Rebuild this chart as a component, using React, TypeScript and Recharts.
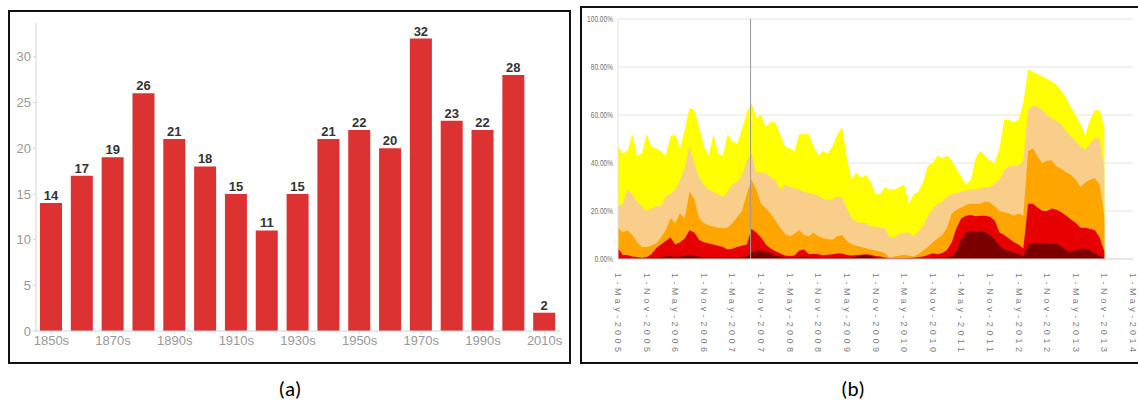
import React from 'react';
import {
  BarChart, Bar, XAxis, YAxis, LabelList,
  AreaChart, Area, CartesianGrid, ReferenceLine,
} from 'recharts';

// ---------- Panel (a) data ----------
const decades = ['1850s', '1860s', '1870s', '1880s', '1890s', '1900s', '1910s', '1920s', '1930s',
  '1940s', '1950s', '1960s', '1970s', '1980s', '1990s', '2000s', '2010s'];
const decadeCounts = [14, 17, 19, 26, 21, 18, 15, 11, 15, 21, 22, 20, 32, 23, 22, 28, 2];
const countTicks = [0, 5, 10, 15, 20, 25, 30];

// ---------- Panel (b) data (cumulative stack levels, % per month from May-2005) ----------
const yellowTop = [
  47, 44, 45, 52, 43, 44, 52, 47, 46, 45, 43, 51, 52, 46, 54, 63, 62, 55, 47, 43,
  52, 44, 43, 52, 49, 48, 54, 61, 65, 59, 60, 55, 57, 57, 52,
  47, 46, 45, 52, 52, 52, 47, 43, 45, 44, 47, 52, 55, 42, 33, 36, 34, 35, 32, 27,
  27, 30, 29, 29, 30, 31, 23, 27, 28, 32, 39, 40, 43,
  42, 43, 41, 37.5, 34, 31, 33, 42, 45, 43, 41, 40, 46, 58, 58, 57, 58, 65, 79, 78,
  77, 76, 75, 74, 72.6, 70, 67, 63, 60, 56, 51.5, 58, 62, 62, 55,
];
const lightOrangeTop = [
  22, 23, 29, 27, 24, 22, 20, 21, 22, 22, 26, 27, 29, 33, 38, 47, 40, 34, 31, 29,
  28, 27, 26, 28, 31, 32, 35, 41, 44, 36, 36, 36, 34, 33, 29,
  31, 30, 29.5, 29, 28, 27.5, 27, 26.5, 25, 24.6, 25, 26, 25.5, 21, 17, 15.5, 15, 15, 13.5, 13.5,
  13, 12.8, 9, 9, 10.5, 11, 11, 9.5, 11.5, 14, 18, 21, 23,
  24, 26, 27, 27.5, 28, 28.5, 29, 29, 29.5, 30, 30, 31.5, 33, 37, 38.5, 39, 39, 41, 62, 64,
  63.5, 62, 60, 58.5, 57.5, 56, 53, 51, 49, 47, 45.5, 48, 50.5, 50, 37,
];
const orangeTop = [
  13, 11, 12, 10, 7, 5, 5, 5.5, 6.5, 9, 12, 17, 15, 19, 17, 28, 25, 17, 15, 14,
  13.5, 13, 12.8, 13, 15, 17.5, 20, 27, 33, 29, 23, 21, 19, 16, 13,
  10.5, 9.5, 10.5, 12, 10, 9.5, 11, 9.5, 8.6, 8.3, 8, 9.5, 10, 7.5, 6, 5.5, 5, 4.5, 4, 3.5,
  3, 2.4, 0.5, 1, 1.5, 1.7, 1.5, 1, 2, 3.5, 5, 7, 8.5,
  10, 13, 19, 20.5, 21.5, 22.5, 23, 23, 23, 24, 23.5, 22, 20, 19.5, 19, 18, 19, 18, 45, 46,
  42.6, 40, 41, 41, 38.5, 37.5, 36, 35, 33, 30, 32, 33, 33.6, 31, 17.6,
];
const redTop = [
  4.5, 1.7, 1.7, 1, 0.8, 0.5, 0.8, 2, 4.5, 6, 7.5, 9, 6, 7, 8.5, 12, 11, 8, 7, 6.5,
  6, 5.5, 5, 4, 4.3, 5, 5.5, 6, 12.5, 11, 9, 6, 4.4, 3.2, 2.4,
  1.5, 1.2, 1.5, 3.5, 4, 2, 2.2, 2, 1.6, 1.8, 2, 2.3, 2.3, 1.7, 1.5, 1.7, 1.8, 2, 1.8, 1.2,
  1, 0.6, 0.3, 0.3, 0.3, 0.3, 0.4, 0.5, 0.8, 1, 1.7, 2.4, 2,
  2.5, 3.7, 7, 13, 17, 18, 18.3, 17.8, 18, 18, 17.6, 16, 11, 10, 8.5, 7, 6, 4.5, 23, 23,
  21.5, 20, 20, 21, 20.5, 19.5, 18, 16.5, 15, 13, 13, 12.5, 12, 9, 3,
];
const darkRedTop = [
  0.3, 0.2, 0.3, 0.2, 0.2, 0.2, 0.3, 0.4, 0.6, 0.8, 1, 1.2, 0.8, 1, 1.2, 1.8, 1.5, 0.9, 0.8, 0.7,
  0.8, 0.6, 0.7, 0.6, 0.5, 0.7, 0.8, 1, 2.5, 3.5, 3.5, 3, 2.5, 1.5, 1,
  0.6, 0.5, 0.5, 0.8, 1, 0.6, 0.5, 0.5, 0.4, 0.5, 0.5, 0.6, 0.6, 0.5, 0.5, 1, 1.5, 1.7, 1.2, 0.5,
  0.3, 0.2, 0.1, 0.1, 0.1, 0.1, 0.2, 0.2, 0.2, 0.3, 0.4, 0.5, 0.5,
  0.7, 0.8, 1, 3.3, 8, 11, 11.8, 11.4, 11.4, 11.2, 10, 8, 5.5, 4, 3.2, 2.8, 2.2, 1.2, 5.8, 6.5,
  6.6, 6.4, 6.7, 6.5, 6.3, 5.2, 3.5, 3, 3.6, 4.4, 4.2, 3.5, 2.4, 1.2, 0.3,
];
const monthTicks = [0, 6, 12, 18, 24, 30, 36, 42, 48, 54, 60, 66, 72, 78, 84, 90, 96, 102, 108];
const monthTickLabels = ['1-May-2005', '1-Nov-2005', '1-May-2006', '1-Nov-2006', '1-May-2007',
  '1-Nov-2007', '1-May-2008', '1-Nov-2008', '1-May-2009', '1-Nov-2009', '1-May-2010', '1-Nov-2010',
  '1-May-2011', '1-Nov-2011', '1-May-2012', '1-Nov-2012', '1-May-2013', '1-Nov-2013', '1-May-2014'];
const pctTicks = [0, 20, 40, 60, 80, 100];
const markerMonth = 27.8;

const barData = decades.map((d, i) => ({ decade: d, count: decadeCounts[i] }));
const areaData = yellowTop.map((v, i) => ({
  m: i,
  yellow: v,
  lightOrange: lightOrangeTop[i],
  orange: orangeTop[i],
  red: redTop[i],
  darkRed: darkRedTop[i],
}));

const PctTick = (props: any) => {
  const { x, y, payload } = props;
  const label = `${Number(payload.value).toFixed(2)}%`;
  return (
    <text x={x} y={y} textAnchor="end" dominantBaseline="central" fontSize={9} fill="#6f6f6f"
      textLength={label.length * 3.7} lengthAdjust="spacingAndGlyphs">{label}</text>
  );
};

const DateTick = (props: any) => {
  const { x, y, payload } = props;
  const idx = monthTicks.indexOf(payload.value);
  const label = monthTickLabels[idx] ?? '';
  return (
    <text x={x} y={y} transform={`rotate(90 ${x} ${y})`} textAnchor="start" dominantBaseline="central"
      fontSize={9} fill="#808080" textLength={79} lengthAdjust="spacing">{label}</text>
  );
};

export default function App() {
  return (
    <div style={{ position: 'absolute', left: 0, top: 0, width: 1138, height: 402, overflow: 'hidden', background: '#fff', fontFamily: '"Liberation Sans", Arial, sans-serif' }}>
      {/* Panel (a) */}
      <div style={{ position: 'absolute', left: 8, top: 10, width: 559, height: 350, border: '2px solid #111' }} />
      <div style={{ position: 'absolute', left: 0, top: 0 }}>
        <BarChart width={571} height={363} data={barData} margin={{ top: 23, right: 11, left: 0, bottom: 0 }}>
          <XAxis dataKey="decade" interval={1} height={32} tickSize={3} tickMargin={2}
            stroke="#d4d4d4" tick={{ fill: '#999', fontSize: 13 }} />
          <YAxis width={36} domain={[0, 33.7]} ticks={countTicks} tickSize={3} tickMargin={2}
            stroke="#d4d4d4" tick={{ fill: '#999', fontSize: 13 }} allowDataOverflow />
          <Bar dataKey="count" fill="#dc3232" barSize={22} isAnimationActive={false}>
            <LabelList dataKey="count" position="top" offset={3} fill="#333" fontSize={13} fontWeight="bold" />
          </Bar>
        </BarChart>
      </div>

      {/* Panel (b) */}
      <div style={{ position: 'absolute', left: 580, top: 6, width: 600, height: 354, border: '2px solid #111' }} />
      <div style={{ position: 'absolute', left: 580, top: 0 }}>
        <AreaChart width={558} height={362} data={areaData} margin={{ top: 19, right: 5, left: 0, bottom: 0 }}>
          <CartesianGrid vertical={false} stroke="#e6e6dc" />
          <XAxis dataKey="m" type="number" domain={[0, 108]} ticks={monthTicks} interval={0}
            height={103} tickSize={0} tickMargin={14} tickLine={false} stroke="#dcdcdc" tick={<DateTick />} />
          <YAxis width={38} domain={[0, 100]} ticks={pctTicks} tickSize={0} tickMargin={5}
            tickLine={false} stroke="#e4e4d8" tick={<PctTick />} />
          <Area type="linear" dataKey="yellow" stroke="none" fill="#ffff00" fillOpacity={1} isAnimationActive={false} />
          <Area type="linear" dataKey="lightOrange" stroke="none" fill="#f9cd8a" fillOpacity={1} isAnimationActive={false} />
          <Area type="linear" dataKey="orange" stroke="none" fill="#ffa500" fillOpacity={1} isAnimationActive={false} />
          <Area type="linear" dataKey="red" stroke="none" fill="#e60000" fillOpacity={1} isAnimationActive={false} />
          <Area type="linear" dataKey="darkRed" stroke="none" fill="#7a0000" fillOpacity={1} isAnimationActive={false} />
          <ReferenceLine x={markerMonth} stroke="#9a9a9a" strokeWidth={1} />
        </AreaChart>
      </div>

      {/* Captions */}
      <div style={{ position: 'absolute', left: 250, top: 376, width: 80, textAlign: 'center', fontFamily: 'Carlito, Lato, "Open Sans", sans-serif', fontSize: 21, lineHeight: '26px', color: '#000' }}>(a)</div>
      <div style={{ position: 'absolute', left: 813, top: 376, width: 80, textAlign: 'center', fontFamily: 'Carlito, Lato, "Open Sans", sans-serif', fontSize: 21, lineHeight: '26px', color: '#000' }}>(b)</div>
    </div>
  );
}
